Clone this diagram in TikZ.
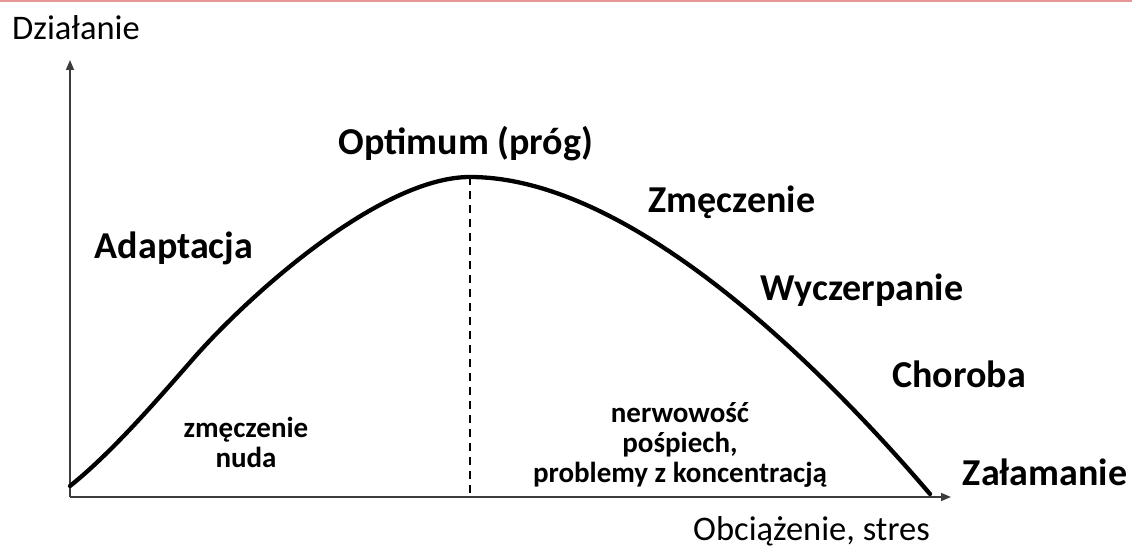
\documentclass[tikz,border=0pt]{standalone}
\usepackage{fontspec}
\setmainfont{Carlito}
\usetikzlibrary{arrows.meta}
\definecolor{topline}{RGB}{230,150,150}
\definecolor{axisgray}{RGB}{60,60,60}
\tikzset{
  big/.style={font=\fontsize{38}{42}\selectfont\bfseries, inner sep=0pt, anchor=base},
  small/.style={font=\fontsize{29}{30}\selectfont\bfseries, inner sep=0pt, anchor=base, align=center},
  axislabel/.style={font=\fontsize{34.5}{38}\selectfont, inner sep=0pt, anchor=base west},
  axisline/.style={draw=axisgray, line width=1.6pt, -{Triangle[length=10pt,width=8pt]}},
  curve/.style={line width=4.3pt, line cap=round, line join=round},
  peakline/.style={line width=2pt, dash pattern=on 8pt off 6pt}
}
\begin{document}
\begin{tikzpicture}[x=1pt,y=-1pt]
\useasboundingbox (0,0) rectangle (1132,548);
\draw[topline, line width=2pt] (0,1) -- (1132,1);
% axes
\coordinate (O) at (70,497);
\coordinate (ytip) at (70,60);
\coordinate (xtip) at (951,497);
\draw[axisline] (O) -- (ytip);
\draw[axisline] (O) -- (xtip);
% peak and dashed line
\coordinate (start) at (70,486);
\coordinate (infl) at (193,359);
\coordinate (peak) at (470,177);
\coordinate (finish) at (930,494);
\coordinate (peakfoot) at (470,497);
\draw[peakline] (peak) -- (peakfoot);
% curve
\draw[curve] (start) .. controls (110,454) and (152,406) .. (infl)
  .. controls (248,296) and (380,177) .. (peak)
  .. controls (620,177) and (800,342) .. (finish);
% labels
\node[axislabel] (dz) at (12,40) {Działanie};
\node[axislabel] (ob) at (693,540) {Obciążenie, stres};
\node[big] (opt) at (466,155) {Optimum (próg)};
\node[big] (ad) at (174,258) {Adaptacja};
\node[big] (zm) at (732,213) {Zmęczenie};
\node[big] (wy) at (862,300) {Wyczerpanie};
\node[big] (ch) at (959,387) {Choroba};
\node[big] (za) at (1045,485) {Załamanie};
\node[small] (zn) at (246,467) {zmęczenie\\nuda};
\node[small] (ne) at (680,482) {nerwowość\\pośpiech,\\problemy z koncentracją};
\end{tikzpicture}
\end{document}
